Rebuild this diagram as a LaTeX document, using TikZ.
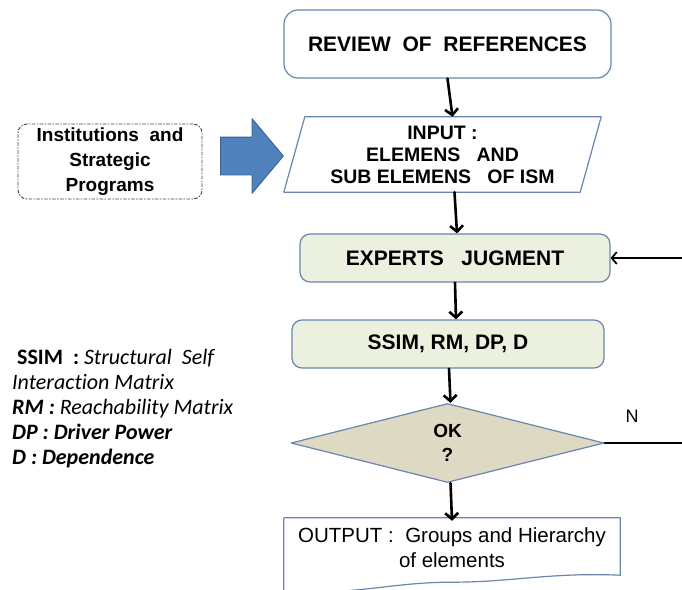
\documentclass[tikz,border=0pt]{standalone}
\usepackage{fontspec}
\setmainfont{Liberation Sans}
\newfontfamily\legendfont[Ligatures=NoCommon]{Carlito}
\usetikzlibrary{shapes.geometric,shapes.arrows,arrows.meta}
\definecolor{boxline}{RGB}{104,134,174}
\definecolor{boxgreen}{RGB}{235,241,222}
\definecolor{okfill}{RGB}{221,217,195}
\definecolor{blockblue}{RGB}{79,129,189}
\definecolor{blockline}{RGB}{58,96,142}
\tikzset{
  flow/.style={-{Straight Barb[length=6pt,width=13pt]}, line width=2.6pt},
  backline/.style={line width=1.8pt},
  boxtext/.style={font=\bfseries\fontsize{21}{24}\selectfont},
  stepround/.style={draw=boxline, line width=1.2pt, rounded corners=10pt,
    align=center, inner sep=0pt, boxtext},
  stepgreen/.style={stepround, fill=boxgreen},
  parline/.style={draw=boxline, line width=1.2pt},
  legendtext/.style={font=\legendfont\fontsize{22}{25}\selectfont, align=left}
}

\begin{document}
\begin{tikzpicture}[x=1pt, y=-1pt, line cap=round, line join=round]

  \useasboundingbox (0,0) rectangle (682,589);

  % main column
  \node[stepround, rounded corners=14pt, minimum width=327pt, minimum height=68pt]
    (review) at (447.5,44) {REVIEW\ \ OF\ \ REFERENCES};

  \node[align=center, inner sep=0pt, minimum width=317pt, minimum height=75pt,
    font=\bfseries\fontsize{19.5}{22}\selectfont]
    (input) at (442.5,154.5) {INPUT :\\ELEMENS\ \ \ AND\\SUB ELEMENS\ \ \ OF ISM};
  \draw[parline] ([xshift=21pt]input.north west) -- (input.north east)
    -- ([xshift=-21pt]input.south east) -- (input.south west) -- cycle;

  \node[stepgreen, minimum width=310pt, minimum height=48pt]
    (experts) at (455,258) {EXPERTS\ \ \ JUGMENT};

  \node[stepgreen, minimum width=312pt, minimum height=48pt]
    (ssim) at (448,344) {SSIM, RM, DP, D};

  \node[diamond, draw=boxline, line width=1.2pt, fill=okfill, inner sep=0pt,
    minimum width=313pt, minimum height=79pt, align=center,
    font=\bfseries\fontsize{19}{24}\selectfont]
    (ok) at (447.5,443) {OK\\?};

  \node[align=center, inner sep=0pt, minimum width=336pt, minimum height=60pt,
    font=\fontsize{20.5}{25}\selectfont]
    (output) at (452,548) {OUTPUT :\ \ Groups and Hierarchy\\of elements};
  \draw[parline] (output.north west) -- (output.north east)
    -- ([yshift=3pt]output.south east)
    .. controls +(-70,-3) and +(60,0) .. ([yshift=-4pt]output.south)
    .. controls +(-60,0) and +(80,2) .. ([yshift=-14pt]output.south west)
    -- cycle;

  % side input
  \node[draw=black!75, line width=0.9pt, dash dot, rounded corners=9pt,
    minimum width=184pt, minimum height=75pt, align=center, inner sep=0pt,
    font=\bfseries\fontsize{19}{25}\selectfont]
    (inst) at (110,161.5) {Institutions\ \ and\\Strategic\\Programs};

  \node[single arrow, fill=blockblue, draw=blockline, line width=0.8pt,
    inner xsep=0pt, inner ysep=18.5pt, minimum height=63pt,
    single arrow head extend=18.5pt, single arrow tip angle=100]
    (blk) at (244,156) {};

  % connectors
  \draw[flow] (review.south) -- ([xshift=10pt]input.north);
  \draw[flow] ([xshift=12pt]input.south) -- ([xshift=2pt]experts.north);
  \draw[flow] (experts.south) -- ([xshift=8pt]ssim.north);
  \draw[flow] ([xshift=1pt]ssim.south) -- ([xshift=3pt]ok.north);
  \draw[flow] ([xshift=3pt]ok.south) -- ([yshift=-3pt]output.north);

  % loop back (N)
  \coordinate (turn) at (686,443);
  \draw[backline, -{Straight Barb[length=5pt,width=12pt]}]
    (ok.east) -- (turn) |- (experts.east);
  \node[font=\fontsize{18}{20}\selectfont] (nmark) at (632,416) {N};

  % abbreviations
  \node[legendtext, anchor=north west, inner sep=0pt] (legend) at (12,349)
    {\ \textbf{SSIM\ \ :} \textit{Structural\ \ Self}\\
     \textit{Interaction Matrix}\\
     \textbf{\textit{RM :}} \textit{Reachability Matrix}\\
     \textbf{\textit{DP : Driver Power}}\\
     \textbf{\textit{D : Dependence}}};

\end{tikzpicture}
\end{document}
